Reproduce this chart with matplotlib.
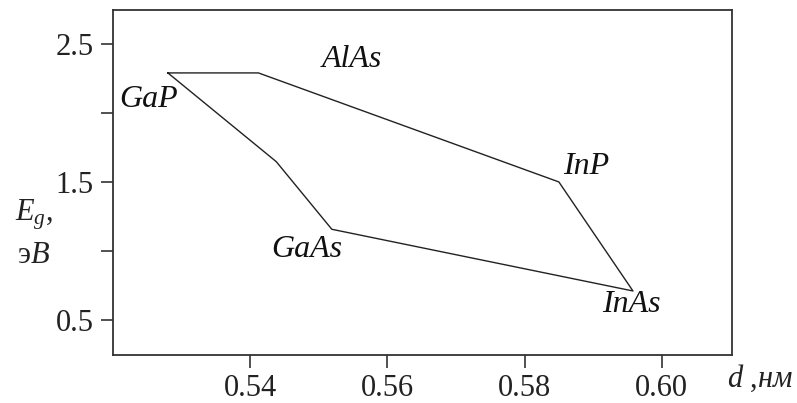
import matplotlib
matplotlib.use("Agg")
import matplotlib.pyplot as plt

plt.rcParams['font.family'] = 'Liberation Serif'
plt.rcParams['mathtext.fontset'] = 'custom'
plt.rcParams['mathtext.it'] = 'Liberation Serif:italic'
plt.rcParams['mathtext.rm'] = 'Liberation Serif'

# boundary of the region (lattice constant d, nm ; band gap Eg, eV)
d_nm = [0.528, 0.5412, 0.585, 0.5958, 0.5519, 0.5438, 0.528]
eg_ev = [2.29, 2.29, 1.50, 0.71, 1.157, 1.647, 2.29]

# compound labels
names = ['GaP', 'AlAs', 'InP', 'GaAs', 'InAs']
name_d = [0.5252, 0.5548, 0.5890, 0.5483, 0.5956]
name_eg = [2.094, 2.39, 1.609, 1.007, 0.609]

xticks = [0.54, 0.56, 0.58, 0.60]
xticklabels = ['0.54', '0.56', '0.58', '0.60']
yticks = [0.5, 1.0, 1.5, 2.0, 2.5]
yticklabels = ['0.5', '', '1.5', '', '2.5']

fig = plt.figure(figsize=(7.97, 4.03), dpi=100)
ax = fig.add_axes([0.1418, 0.1191, 0.7763, 0.8561])

ax.plot(d_nm, eg_ev, color='#222222', lw=1.0)

for n, x, y in zip(names, name_d, name_eg):
    ax.text(x, y, n, fontsize=23, style='italic', ha='center', va='center',
            color='#111111')

ax.set_xlim(0.52, 0.6102)
ax.set_ylim(0.246, 2.746)
ax.set_xticks(xticks)
ax.set_xticklabels(xticklabels)
ax.set_yticks(yticks)
ax.set_yticklabels(yticklabels)
ax.tick_params(direction='out', length=9, width=1.2, pad=5, labelsize=22,
               color='#333333', labelcolor='#222222')
for s in ax.spines.values():
    s.set_color('#333333')
    s.set_linewidth(1.3)

# axis labels
fig.text(15 / 797, 1 - 220 / 403, r'$E_{g}$,', fontsize=22, ha='left',
         va='baseline', color='#222222')
fig.text(17 / 797, 1 - 263 / 403, r'э$B$', fontsize=22, ha='left',
         va='baseline', color='#222222')
fig.text(727 / 797, 1 - 387 / 403, r'$d$ ,$нм$', fontsize=22, ha='left',
         va='baseline', color='#222222')

fig.savefig('out.png', dpi=100)
